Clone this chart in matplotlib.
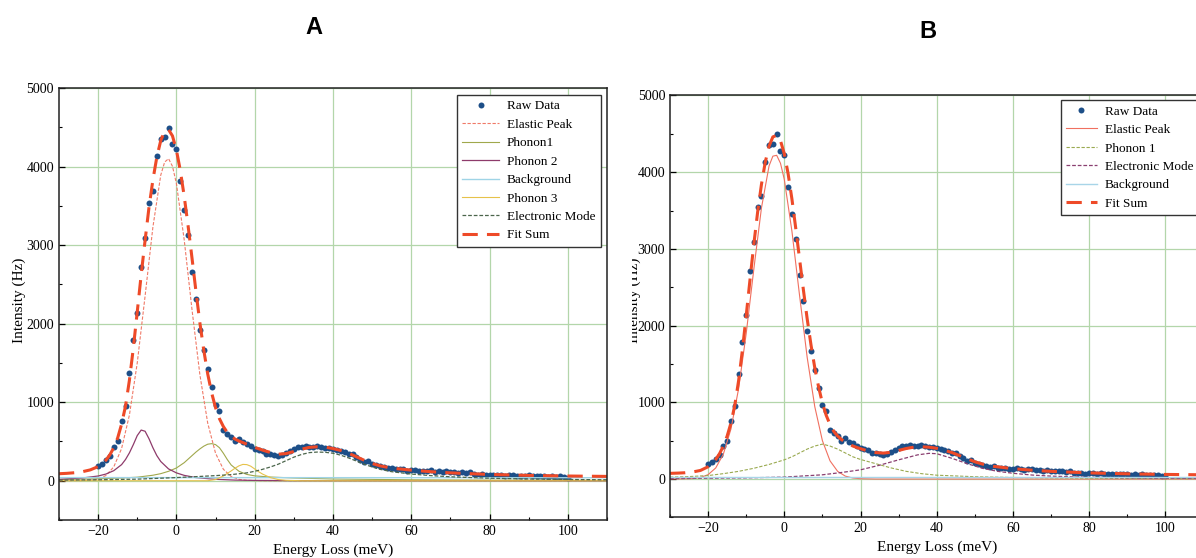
import matplotlib
matplotlib.use("Agg")
import matplotlib.pyplot as plt
from matplotlib.ticker import MultipleLocator
from matplotlib.transforms import Bbox, TransformedBbox

plt.rcParams["font.family"] = ["Liberation Serif", "DejaVu Serif"]

# raw EELS spectrum (same data in both panels), 1 meV steps
raw_x = list(range(-20, 101))
raw_y = [191, 217, 267, 310, 424, 500, 755, 955, 1372, 1787,
         2136, 2717, 3086, 3541, 3685, 4131, 4353, 4373, 4493, 4282,
         4229, 3813, 3452, 3127, 2662, 2318, 1924, 1669, 1423, 1188,
         968, 883, 641, 595, 557, 500, 531, 488, 471, 437,
         408, 395, 373, 344, 335, 322, 310, 331, 352, 373,
         408, 429, 424, 446, 424, 424, 445, 430, 420, 415,
         400, 395, 375, 365, 345, 335, 300, 270, 240, 250,
         210, 195, 185, 175, 160, 165, 150, 145, 150, 130,
         135, 140, 130, 120, 125, 135, 115, 120, 110, 120,
         105, 110, 100, 110, 95, 105, 80, 75, 80, 70,
         75, 72, 70, 75, 65, 68, 70, 60, 65, 62,
         68, 58, 62, 55, 60, 52, 58, 50, 55, 45,
         34]

# fit sum grid (shared by both panels)
fit_x = [-30, -28, -26, -24, -22,
         -20, -19, -18, -17, -16, -15, -14, -13, -12, -11,
         -10, -9, -8, -7, -6, -5, -4, -3, -2, -1,
         0, 1, 2, 3, 4, 5, 6, 7, 8, 9,
         10, 11, 12, 13, 14, 15, 16, 17, 18, 19, 20,
         22, 24, 26, 28, 30, 32, 34, 36, 38, 40, 42, 44, 46, 48, 50, 52,
         55, 60, 65, 70, 75, 80, 90, 100, 110]

# ---- panel A components ----
a_fit = [89, 94, 102, 115, 138,
         180, 215, 262, 330, 420, 545, 720, 950, 1280, 1690,
         2150, 2620, 3060, 3480, 3830, 4120, 4330, 4450, 4470, 4390,
         4210, 3950, 3620, 3240, 2830, 2410, 2010, 1660, 1360, 1120,
         930, 790, 690, 615, 565, 530, 505, 485, 465, 445, 425,
         390, 360, 338, 345, 372, 402, 425, 432, 428, 410, 385, 350, 305, 260, 220, 190,
         160, 135, 115, 100, 90, 80, 68, 60, 55]

a_el_x = [-30, -24, -22, -20, -18, -16, -14, -12, -10, -8, -6, -4, -3, -2, -1, 0,
          2, 4, 6, 8, 10, 12, 14, 16, 18, 22, 110]
a_el_y = [0, 2, 6, 22, 66, 176, 410, 837, 1500, 2350, 3230, 3890, 4057, 4100, 4003, 3785,
          3065, 2173, 1350, 734, 350, 146, 53, 17, 5, 0, 0]

a_ph1_x = [-30, -20, -14, -10, -6, -4, -2, 0, 2, 4, 5, 6, 7, 8, 9, 10, 11, 12, 13, 14,
           16, 18, 20, 24, 30, 40, 60, 80, 110]
a_ph1_y = [15, 25, 35, 45, 70, 90, 120, 162, 230, 320, 365, 405, 440, 465, 472, 460, 420, 350, 270, 200,
           120, 80, 62, 47, 35, 22, 12, 8, 5]

a_ph2_x = [-30, -24, -20, -18, -16, -14, -13, -12, -11, -10, -9, -8, -7, -6, -5, -4,
           -2, 0, 2, 5, 10, 15, 20, 30, 110]
a_ph2_y = [18, 35, 60, 85, 128, 205, 270, 355, 460, 575, 645, 630, 535, 420, 320, 245,
           150, 100, 68, 40, 18, 8, 4, 1, 0]

a_bg_x = [-30, 110]
a_bg_y = [40, 38]

a_ph3_x = [-30, 8, 10, 12, 14, 15, 16, 17, 18, 19, 20, 21, 22, 24, 26, 28, 32, 110]
a_ph3_y = [0, 0, 15, 60, 125, 160, 190, 208, 205, 185, 150, 115, 85, 40, 15, 5, 0, 0]

a_em_x = [-30, -20, -10, 0, 5, 10, 14, 18, 20, 22, 24, 26, 28, 30, 32, 34, 36, 38, 40,
          42, 44, 46, 48, 50, 52, 55, 60, 65, 70, 80, 90, 100, 110]
a_em_y = [8, 12, 20, 40, 52, 65, 78, 100, 120, 145, 175, 210, 255, 300, 335, 358, 365, 362, 350,
          325, 290, 250, 210, 175, 145, 115, 85, 65, 50, 32, 22, 16, 12]

# ---- panel B components ----
b_fit = [74, 77, 82, 92, 112,
         160, 200, 255, 330, 430, 560, 730, 960, 1280, 1680,
         2130, 2600, 3060, 3480, 3840, 4130, 4340, 4460, 4480, 4410,
         4240, 3980, 3650, 3270, 2870, 2470, 2090, 1750, 1450, 1200,
         990, 830, 710, 620, 560, 515, 480, 455, 430, 412, 395,
         365, 345, 338, 348, 372, 398, 415, 420, 415, 400, 375, 345, 305, 265, 225, 195,
         165, 135, 115, 100, 90, 80, 68, 60, 55]

b_el_x = [-30, -24, -22, -20, -18, -16, -14, -12, -10, -8, -6, -4, -3, -2, -1, 0,
          2, 4, 6, 8, 10, 12, 14, 16, 18, 20, 24, 110]
b_el_y = [0, 6, 20, 57, 144, 324, 653, 1176, 1897, 2736, 3533, 4082, 4209, 4220, 4116, 3905,
          3231, 2395, 1587, 943, 500, 237, 100, 38, 13, 4, 0, 0]

b_ph1_x = [-30, -25, -20, -16, -12, -8, -4, 0, 2, 4, 6, 8, 10, 12, 14, 16, 18, 20,
           24, 28, 32, 36, 40, 50, 60, 80, 110]
b_ph1_y = [25, 32, 45, 70, 100, 140, 190, 250, 290, 340, 390, 430, 455, 430, 390, 340, 290, 255,
           200, 145, 100, 70, 50, 30, 20, 10, 5]

b_em_x = [-30, -10, 0, 10, 15, 20, 25, 30, 35, 38, 40, 44, 48, 52, 56, 60, 65, 70, 80, 90, 100, 110]
b_em_y = [5, 15, 25, 55, 85, 120, 180, 250, 315, 335, 330, 270, 200, 140, 100, 75, 52, 38, 22, 14, 10, 7]

b_bg_x = [-30, 110]
b_bg_y = [30, 30]

RAW_C = "#1d4f88"
FIT_C = "#ee4a28"
GRID_C = "#b3d6aa"

fig = plt.figure(figsize=(11.96, 5.58), dpi=100)
axA = fig.add_axes([0.0493, 0.0681, 0.4582, 0.7742])
axB = fig.add_axes([0.5602, 0.0728, 0.4460, 0.7561])


def style_axes(ax):
    ax.set_xlim(-30, 110)
    ax.set_ylim(-500, 5000)
    ax.xaxis.set_major_locator(MultipleLocator(20))
    ax.xaxis.set_minor_locator(MultipleLocator(10))
    ax.yaxis.set_major_locator(MultipleLocator(1000))
    ax.yaxis.set_minor_locator(MultipleLocator(500))
    ax.tick_params(which="both", direction="in", top=False, right=False, labelsize=10)
    ax.tick_params(which="major", length=4, width=0.9)
    ax.tick_params(which="minor", length=2.5, width=0.8)
    ax.grid(True, which="major", color=GRID_C, linewidth=0.9)
    ax.set_axisbelow(True)
    for s in ax.spines.values():
        s.set_linewidth(1.1)
        s.set_color("#222222")
    ax.set_xlabel("Energy Loss (meV)", fontsize=11, labelpad=4)
    ax.set_ylabel("Intensity (Hz)", fontsize=11)


LEG = dict(loc="upper left", fontsize=9.5, frameon=True, fancybox=False,
           edgecolor="#333333", framealpha=1, labelspacing=0.47,
           handletextpad=0.6, borderpad=0.4, borderaxespad=0)

# panel A
axA.plot(raw_x, raw_y, "o", color=RAW_C, markersize=4.3, markeredgewidth=0, label="Raw Data")
axA.plot(a_el_x, a_el_y, color="#f07a68", lw=0.8, ls=(0, (3, 1.5)), label="Elastic Peak")
axA.plot(a_ph1_x, a_ph1_y, color="#a0a84c", lw=0.8, label="Phonon1")
axA.plot(a_ph2_x, a_ph2_y, color="#8e3b6b", lw=0.9, label="Phonon 2")
axA.plot(a_bg_x, a_bg_y, color="#9fd4e6", lw=1.0, label="Background")
axA.plot(a_ph3_x, a_ph3_y, color="#e6c24a", lw=0.8, label="Phonon 3")
axA.plot(a_em_x, a_em_y, color="#4b654b", lw=0.9, ls=(0, (3, 1.5)), label="Electronic Mode")
axA.plot(fit_x, a_fit, color=FIT_C, lw=2.2, ls=(0, (5, 3)), label="Fit Sum")
style_axes(axA)
axA.yaxis.set_label_coords(-0.061, 0.509)
axA.legend(bbox_to_anchor=(0.726, 0.984), handlelength=2.8, **LEG)

# panel B
axB.plot(raw_x, raw_y, "o", color=RAW_C, markersize=4.3, markeredgewidth=0, label="Raw Data")
axB.plot(b_el_x, b_el_y, color="#f07060", lw=0.8, label="Elastic Peak")
axB.plot(b_ph1_x, b_ph1_y, color="#9aaa50", lw=0.8, ls=(0, (3, 1.5)), label="Phonon 1")
axB.plot(b_em_x, b_em_y, color="#8a3f70", lw=0.9, ls=(0, (3, 1.5)), label="Electronic Mode")
axB.plot(b_bg_x, b_bg_y, color="#a8d5e8", lw=1.0, label="Background")
axB.plot(fit_x, b_fit, color=FIT_C, lw=2.2, ls=(0, (5, 3)), label="Fit Sum")
style_axes(axB)
axB.yaxis.set_label_coords(-0.054, 0.515)
axB.legend(bbox_to_anchor=(0.733, 0.989), handlelength=2.3, **LEG)

# the B y-label is partly cut off in the source figure
yl = axB.yaxis.label
yl.set_clip_box(TransformedBbox(Bbox([[632 / 1196, 0], [1, 1]]), fig.transFigure))
yl.set_clip_on(True)

fig.text(314 / 1196, 1 - 27 / 558, "A", ha="center", va="center",
         fontsize=17, fontweight="bold", family="Liberation Sans")
fig.text(928 / 1196, 1 - 32 / 558, "B", ha="center", va="center",
         fontsize=17, fontweight="bold", family="Liberation Sans")

fig.savefig("out.png", dpi=100)
